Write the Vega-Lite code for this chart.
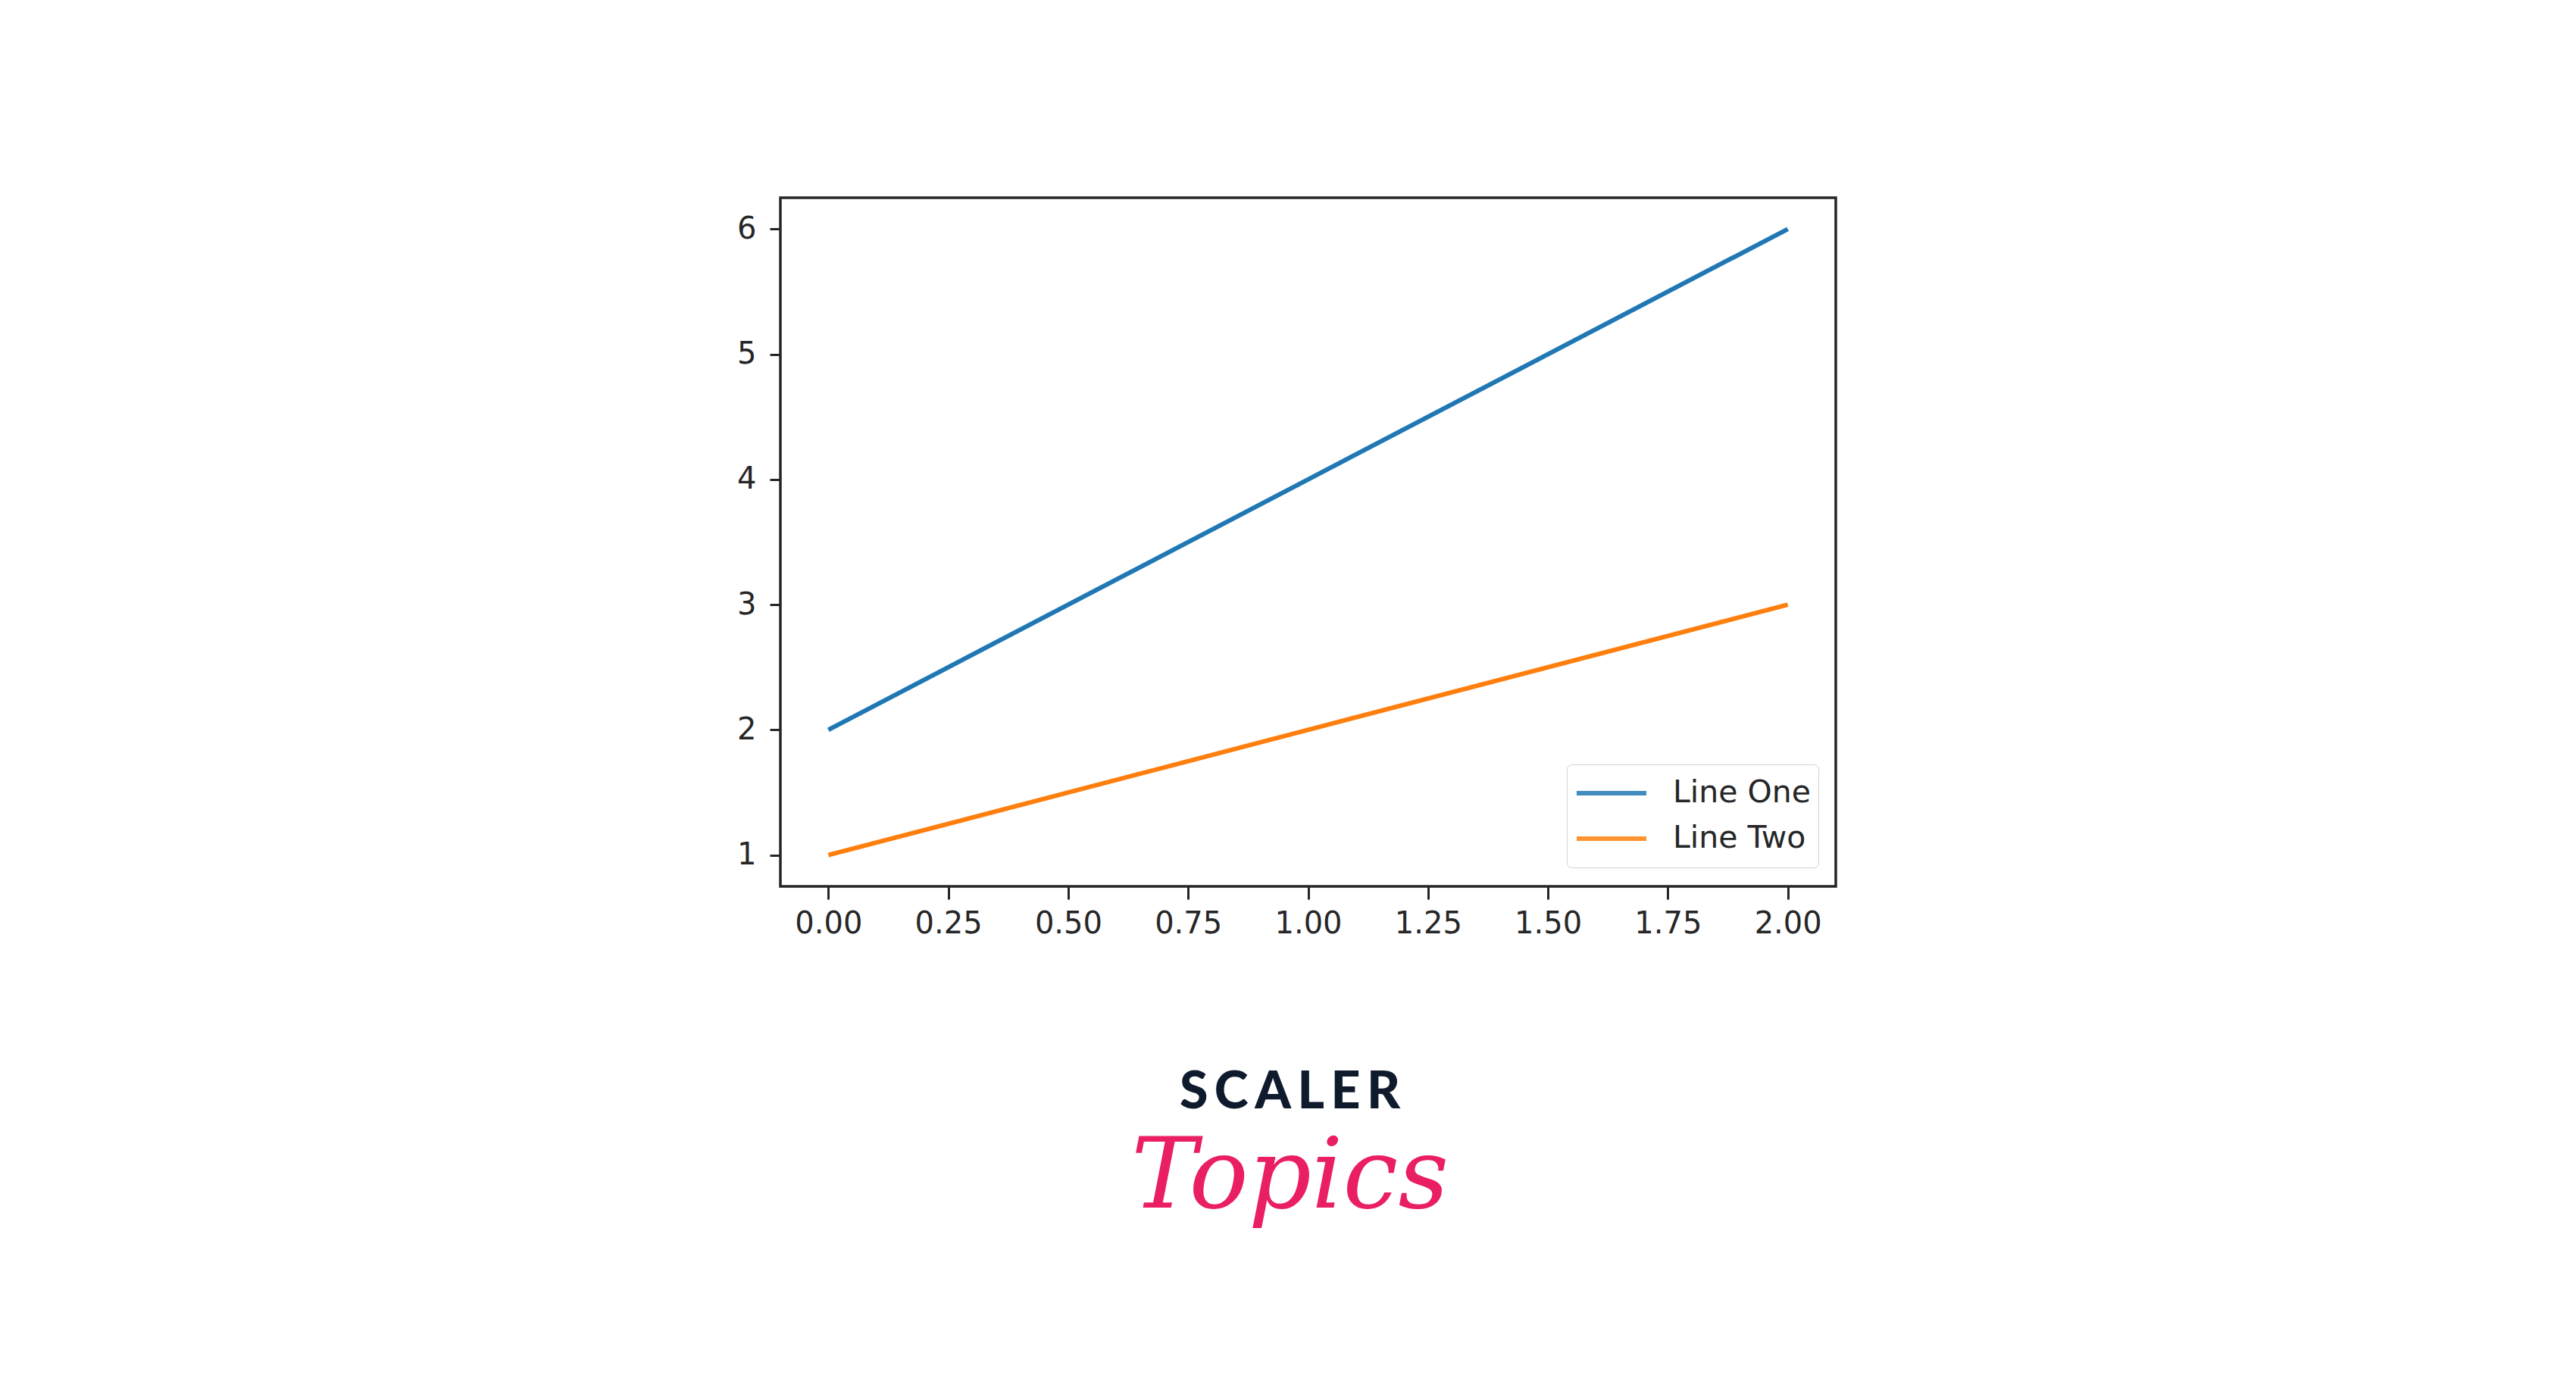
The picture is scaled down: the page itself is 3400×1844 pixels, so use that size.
{
  "$schema": "https://vega.github.io/schema/vega-lite/v6.json",
  "autosize": {"type": "none"},
  "width": 1393,
  "height": 909,
  "padding": {"left": 1030, "top": 261, "right": 977, "bottom": 674},
  "background": "white",
  "title": {
    "text": "S\u2009C\u2009A\u2009L\u2009E\u2009R",
    "subtitle": "Topics",
    "orient": "bottom",
    "anchor": "middle",
    "dx": -24,
    "offset": 170,
    "font": "Lato",
    "fontSize": 68,
    "fontWeight": 900,
    "color": "#0f1b2d",
    "subtitleFont": "DejaVu Serif",
    "subtitleFontStyle": "italic",
    "subtitleFontSize": 130,
    "subtitleColor": "#e91e63",
    "subtitlePadding": 14
  },
  "data": {
    "values": [
      {"x": 0, "y": 2, "series": "Line One"},
      {"x": 1, "y": 4, "series": "Line One"},
      {"x": 2, "y": 6, "series": "Line One"},
      {"x": 0, "y": 1, "series": "Line Two"},
      {"x": 1, "y": 2, "series": "Line Two"},
      {"x": 2, "y": 3, "series": "Line Two"}
    ]
  },
  "mark": {"type": "line", "strokeWidth": 6},
  "encoding": {
    "x": {
      "field": "x",
      "type": "quantitative",
      "scale": {"domain": [-0.1, 2.1], "nice": false, "zero": false},
      "axis": {
        "values": [0, 0.25, 0.5, 0.75, 1, 1.25, 1.5, 1.75, 2],
        "format": ".2f",
        "tickSize": 17,
        "labelPadding": 12
      }
    },
    "y": {
      "field": "y",
      "type": "quantitative",
      "scale": {"domain": [0.75, 6.25], "nice": false, "zero": false},
      "axis": {
        "values": [1, 2, 3, 4, 5, 6],
        "tickSize": 14,
        "labelPadding": 18
      }
    },
    "color": {
      "field": "series",
      "type": "nominal",
      "scale": {"domain": ["Line One", "Line Two"], "range": ["#1f77b4", "#ff7f0e"]},
      "legend": {
        "orient": "none",
        "legendX": 1038,
        "legendY": 748,
        "title": null,
        "symbolType": "stroke",
        "symbolSize": 8464,
        "symbolStrokeWidth": 6,
        "symbolOpacity": 0.85,
        "labelFontSize": 41,
        "labelFont": "DejaVu Sans",
        "labelColor": "#262626",
        "labelOffset": 32,
        "labelLimit": 500,
        "strokeColor": "#d4d4d4",
        "fillColor": "white",
        "cornerRadius": 6,
        "padding": 10,
        "rowPadding": 4,
        "clipHeight": 56
      }
    }
  },
  "config": {
    "view": {"stroke": "#262626", "strokeWidth": 3.5},
    "axis": {
      "title": null,
      "grid": false,
      "domain": false,
      "tickColor": "#262626",
      "tickWidth": 3,
      "labelFont": "DejaVu Sans",
      "labelFontSize": 40,
      "labelColor": "#262626"
    }
  }
}
